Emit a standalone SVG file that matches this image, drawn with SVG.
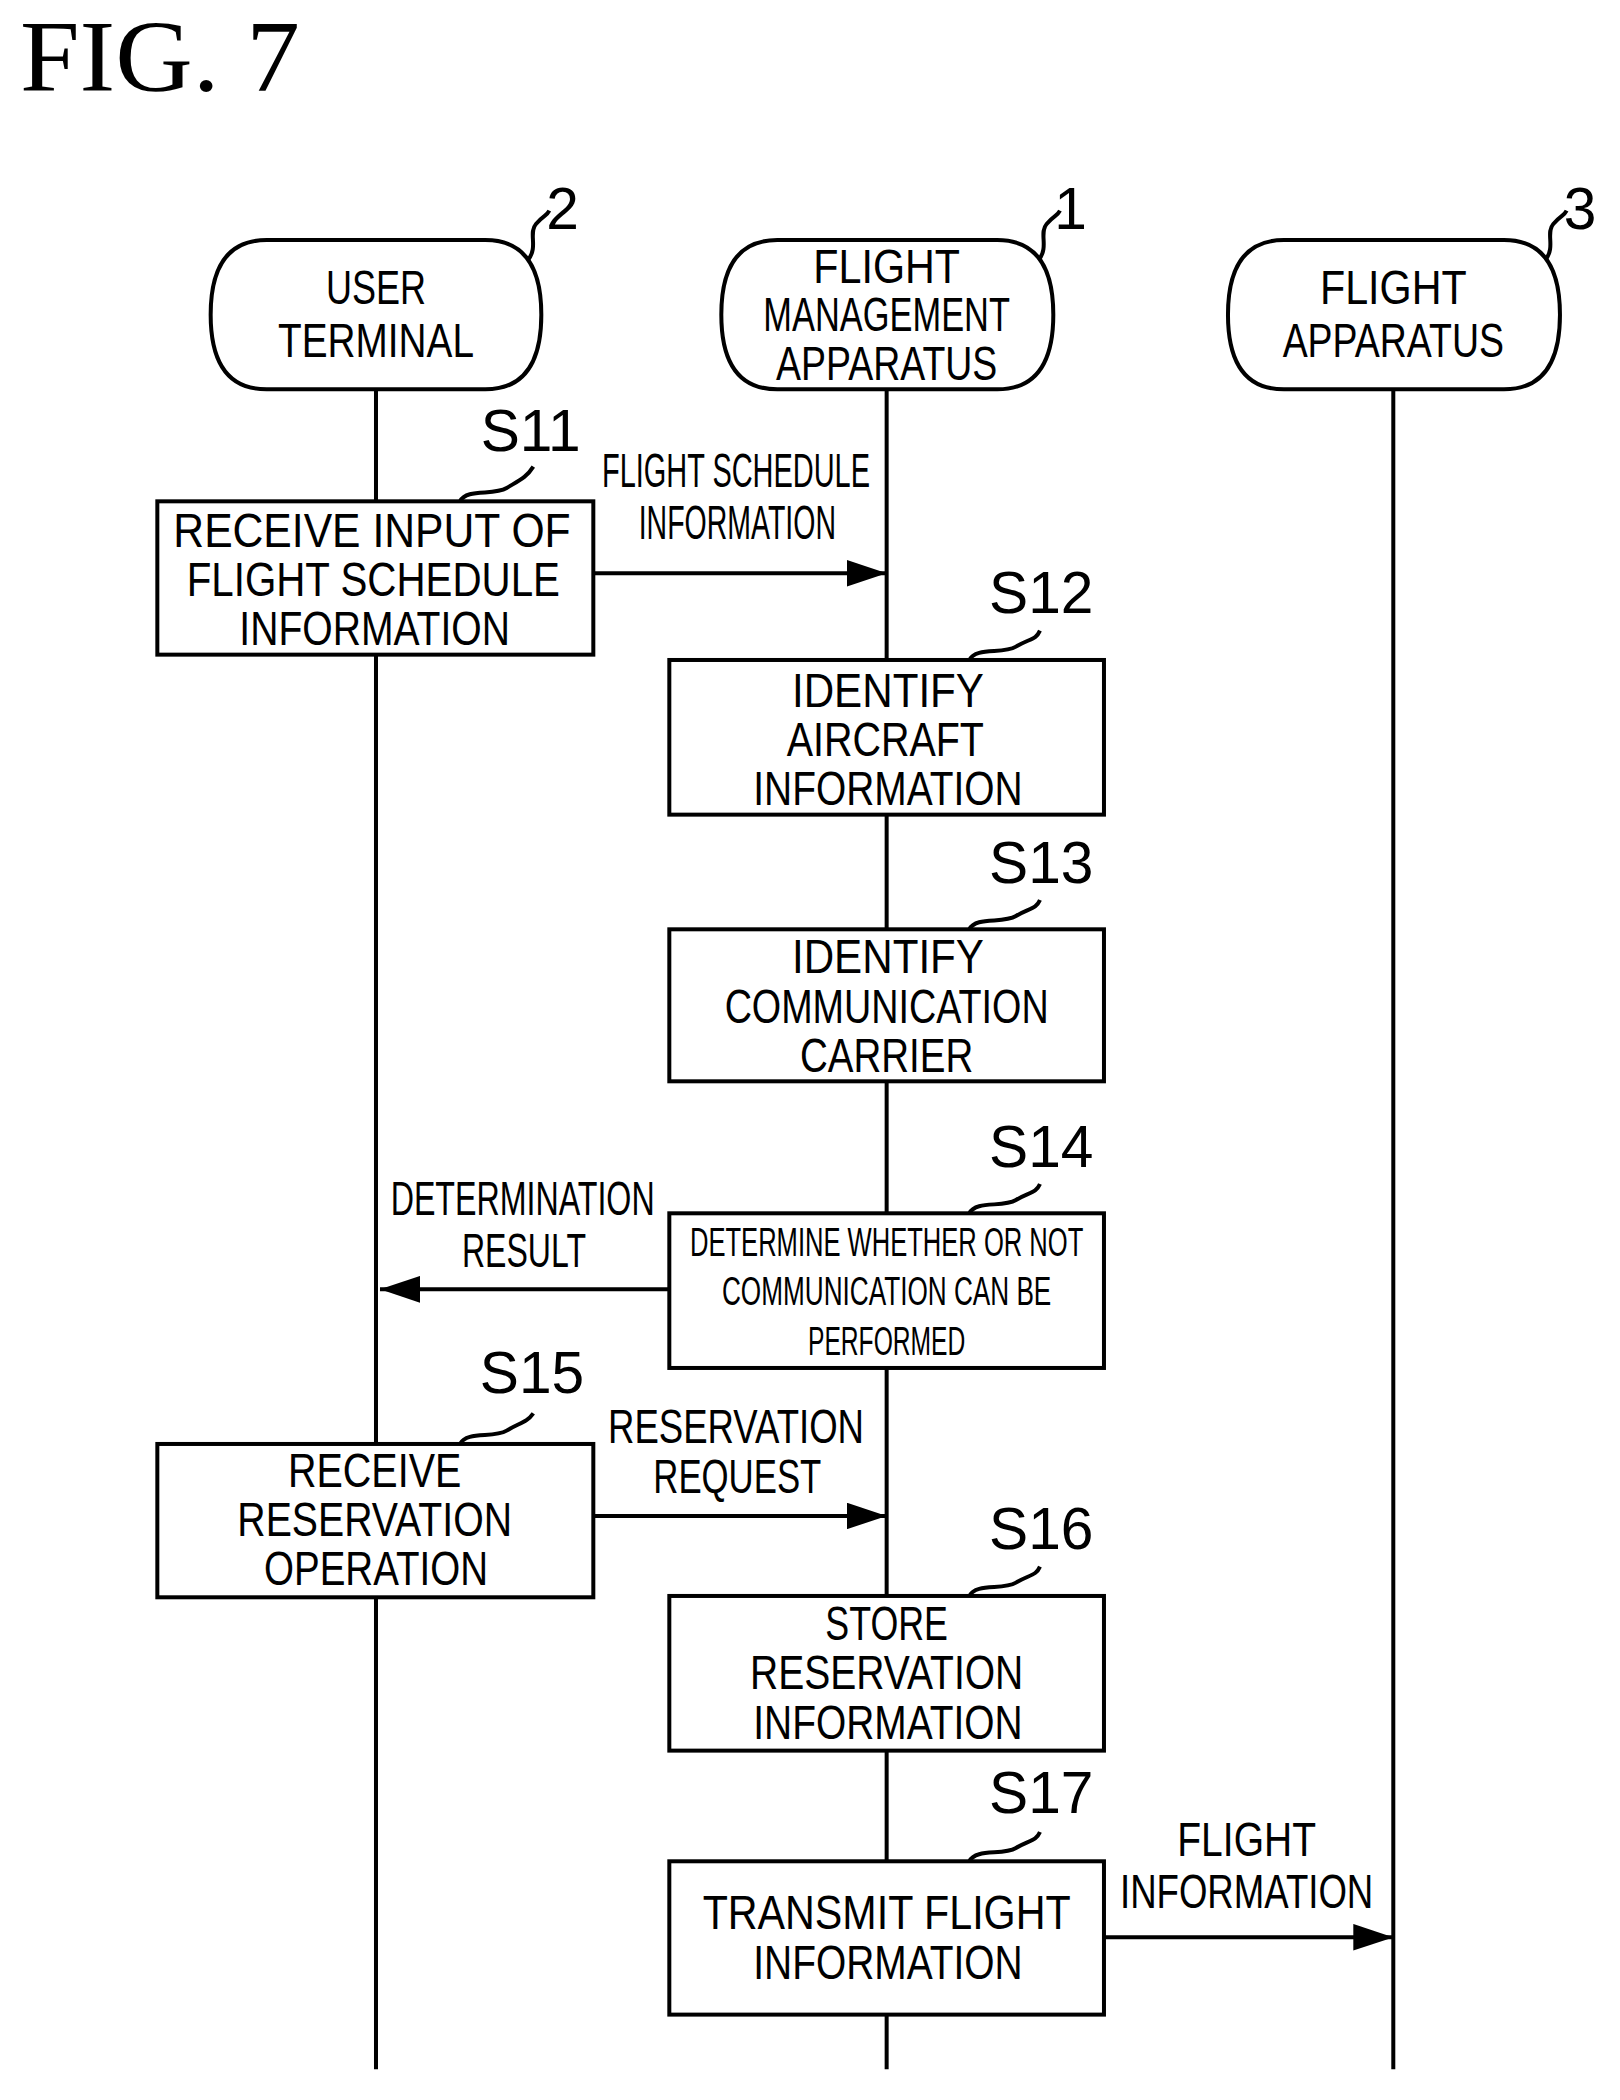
<svg xmlns="http://www.w3.org/2000/svg" width="1620" height="2100" viewBox="0 0 1620 2100">
<style>
.t{font-family:"Liberation Sans",Arial,sans-serif;font-size:36px;fill:#000;text-anchor:middle}
.s{font-size:30px}
.st{font-family:"Liberation Sans",Arial,sans-serif;font-size:44px;fill:#000;text-anchor:middle}
.b{fill:#fff;stroke:#000;stroke-width:3}
.l{fill:none;stroke:#000;stroke-width:3}
</style>
<defs>
<marker id="ah" markerWidth="30" markerHeight="20" refX="30" refY="10" orient="auto" markerUnits="userSpaceOnUse" viewBox="0 0 30 20"><path d="M0 0L30 10L0 20Z" fill="#000"/></marker>
</defs>
<rect width="1620" height="2100" fill="#fff"/>
<g transform="scale(1.3333)">
<text x="15" y="68" font-family="Liberation Serif,serif" font-size="76" textLength="210" lengthAdjust="spacingAndGlyphs">FIG. 7</text>
<g id="lifelines" class="l">
<path d="M282 292V1552M665 292V1552M1045 292V1552"/>
</g>
<g id="connectors">
<path class="l" d="M445 430H665" style="marker-end:url(#ah)" />
<path class="l" d="M502 967H285" style="marker-end:url(#ah)"/>
<path class="l" d="M445 1137H665" style="marker-end:url(#ah)"/>
<path class="l" d="M828 1453H1045" style="marker-end:url(#ah)"/>
<text class="t" x="552" y="365" textLength="201" lengthAdjust="spacingAndGlyphs">FLIGHT SCHEDULE</text>
<text class="t" x="553" y="404" textLength="148" lengthAdjust="spacingAndGlyphs">INFORMATION</text>
<text class="t" x="392" y="911" textLength="198" lengthAdjust="spacingAndGlyphs">DETERMINATION</text>
<text class="t" x="393" y="950" textLength="93" lengthAdjust="spacingAndGlyphs">RESULT</text>
<text class="t" x="552" y="1082" textLength="192" lengthAdjust="spacingAndGlyphs">RESERVATION</text>
<text class="t" x="553" y="1120" textLength="126" lengthAdjust="spacingAndGlyphs">REQUEST</text>
<text class="t" x="935" y="1392" textLength="104" lengthAdjust="spacingAndGlyphs">FLIGHT</text>
<text class="t" x="935" y="1431" textLength="190" lengthAdjust="spacingAndGlyphs">INFORMATION</text>
</g>
<g id="n2">
<path class="b" d="M200 180H364Q406 180 406 236Q406 292 364 292H200Q158 292 158 236Q158 180 200 180Z"/>
<text class="t" x="282" y="228" textLength="75" lengthAdjust="spacingAndGlyphs">USER</text>
<text class="t" x="282" y="268" textLength="147" lengthAdjust="spacingAndGlyphs">TERMINAL</text>
<path class="l" d="M396 195C404 185 396 175 402 168S410 162 412 158"/>
<text class="st" x="422" y="172">2</text>
</g>
<g id="n1">
<path class="b" d="M583 180H748Q790 180 790 236Q790 292 748 292H583Q541 292 541 236Q541 180 583 180Z"/>
<text class="t" x="665" y="212" textLength="110" lengthAdjust="spacingAndGlyphs">FLIGHT</text>
<text class="t" x="665" y="248" textLength="185" lengthAdjust="spacingAndGlyphs">MANAGEMENT</text>
<text class="t" x="665" y="285" textLength="166" lengthAdjust="spacingAndGlyphs">APPARATUS</text>
<path class="l" d="M779 195C787 185 779 175 785 168S793 162 795 158"/>
<text class="st" x="803" y="172">1</text>
</g>
<g id="n3">
<path class="b" d="M963 180H1128Q1170 180 1170 236Q1170 292 1128 292H963Q921 292 921 236Q921 180 963 180Z"/>
<text class="t" x="1045" y="228" textLength="110" lengthAdjust="spacingAndGlyphs">FLIGHT</text>
<text class="t" x="1045" y="268" textLength="166" lengthAdjust="spacingAndGlyphs">APPARATUS</text>
<path class="l" d="M1159 195C1167 185 1159 175 1165 168S1173 162 1175 158"/>
<text class="st" x="1185" y="172">3</text>
</g>
<g id="S11">
<rect class="b" x="118" y="376" width="327" height="115"/>
<text class="t" x="279" y="410" textLength="298" lengthAdjust="spacingAndGlyphs">RECEIVE INPUT OF</text>
<text class="t" x="280" y="447" textLength="280" lengthAdjust="spacingAndGlyphs">FLIGHT SCHEDULE</text>
<text class="t" x="281" y="484" textLength="203" lengthAdjust="spacingAndGlyphs">INFORMATION</text>
<path class="l" d="M345 376C350 366 370 372 380 366S395 358 400 350"/>
<text class="st" x="398" y="338">S11</text>
</g>
<g id="S12">
<rect class="b" x="502" y="495" width="326" height="116"/>
<text class="t" x="666" y="530" textLength="144" lengthAdjust="spacingAndGlyphs">IDENTIFY</text>
<text class="t" x="664" y="567" textLength="148" lengthAdjust="spacingAndGlyphs">AIRCRAFT</text>
<text class="t" x="666" y="604" textLength="202" lengthAdjust="spacingAndGlyphs">INFORMATION</text>
<path class="l" d="M727 495C732 485 752 491 762 485S777 480 780 473"/>
<text class="st" x="781" y="460">S12</text>
</g>
<g id="S13">
<rect class="b" x="502" y="697" width="326" height="114"/>
<text class="t" x="666" y="730" textLength="144" lengthAdjust="spacingAndGlyphs">IDENTIFY</text>
<text class="t" x="665" y="767" textLength="243" lengthAdjust="spacingAndGlyphs">COMMUNICATION</text>
<text class="t" x="665" y="804" textLength="130" lengthAdjust="spacingAndGlyphs">CARRIER</text>
<path class="l" d="M727 697C732 687 752 693 762 687S777 682 780 675"/>
<text class="st" x="781" y="662">S13</text>
</g>
<g id="S14">
<rect class="b" x="502" y="910" width="326" height="116"/>
<text class="t s" x="665" y="942" textLength="295" lengthAdjust="spacingAndGlyphs">DETERMINE WHETHER OR NOT</text>
<text class="t s" x="665" y="979" textLength="247" lengthAdjust="spacingAndGlyphs">COMMUNICATION CAN BE</text>
<text class="t s" x="665" y="1016" textLength="118" lengthAdjust="spacingAndGlyphs">PERFORMED</text>
<path class="l" d="M727 910C732 900 752 906 762 900S777 895 780 888"/>
<text class="st" x="781" y="875">S14</text>
</g>
<g id="S15">
<rect class="b" x="118" y="1083" width="327" height="115"/>
<text class="t" x="281" y="1115" textLength="130" lengthAdjust="spacingAndGlyphs">RECEIVE</text>
<text class="t" x="281" y="1152" textLength="206" lengthAdjust="spacingAndGlyphs">RESERVATION</text>
<text class="t" x="282" y="1189" textLength="168" lengthAdjust="spacingAndGlyphs">OPERATION</text>
<path class="l" d="M345 1083C350 1073 370 1079 380 1073S395 1067 400 1060"/>
<text class="st" x="399" y="1045">S15</text>
</g>
<g id="S16">
<rect class="b" x="502" y="1197" width="326" height="116"/>
<text class="t" x="665" y="1230" textLength="92" lengthAdjust="spacingAndGlyphs">STORE</text>
<text class="t" x="665" y="1267" textLength="205" lengthAdjust="spacingAndGlyphs">RESERVATION</text>
<text class="t" x="666" y="1304" textLength="202" lengthAdjust="spacingAndGlyphs">INFORMATION</text>
<path class="l" d="M727 1197C732 1187 752 1193 762 1187S777 1182 780 1175"/>
<text class="st" x="781" y="1162">S16</text>
</g>
<g id="S17">
<rect class="b" x="502" y="1396" width="326" height="115"/>
<text class="t" x="665" y="1447" textLength="276" lengthAdjust="spacingAndGlyphs">TRANSMIT FLIGHT</text>
<text class="t" x="666" y="1484" textLength="202" lengthAdjust="spacingAndGlyphs">INFORMATION</text>
<path class="l" d="M727 1396C732 1386 752 1392 762 1386S777 1381 780 1374"/>
<text class="st" x="781" y="1360">S17</text>
</g>
</g>
</svg>
